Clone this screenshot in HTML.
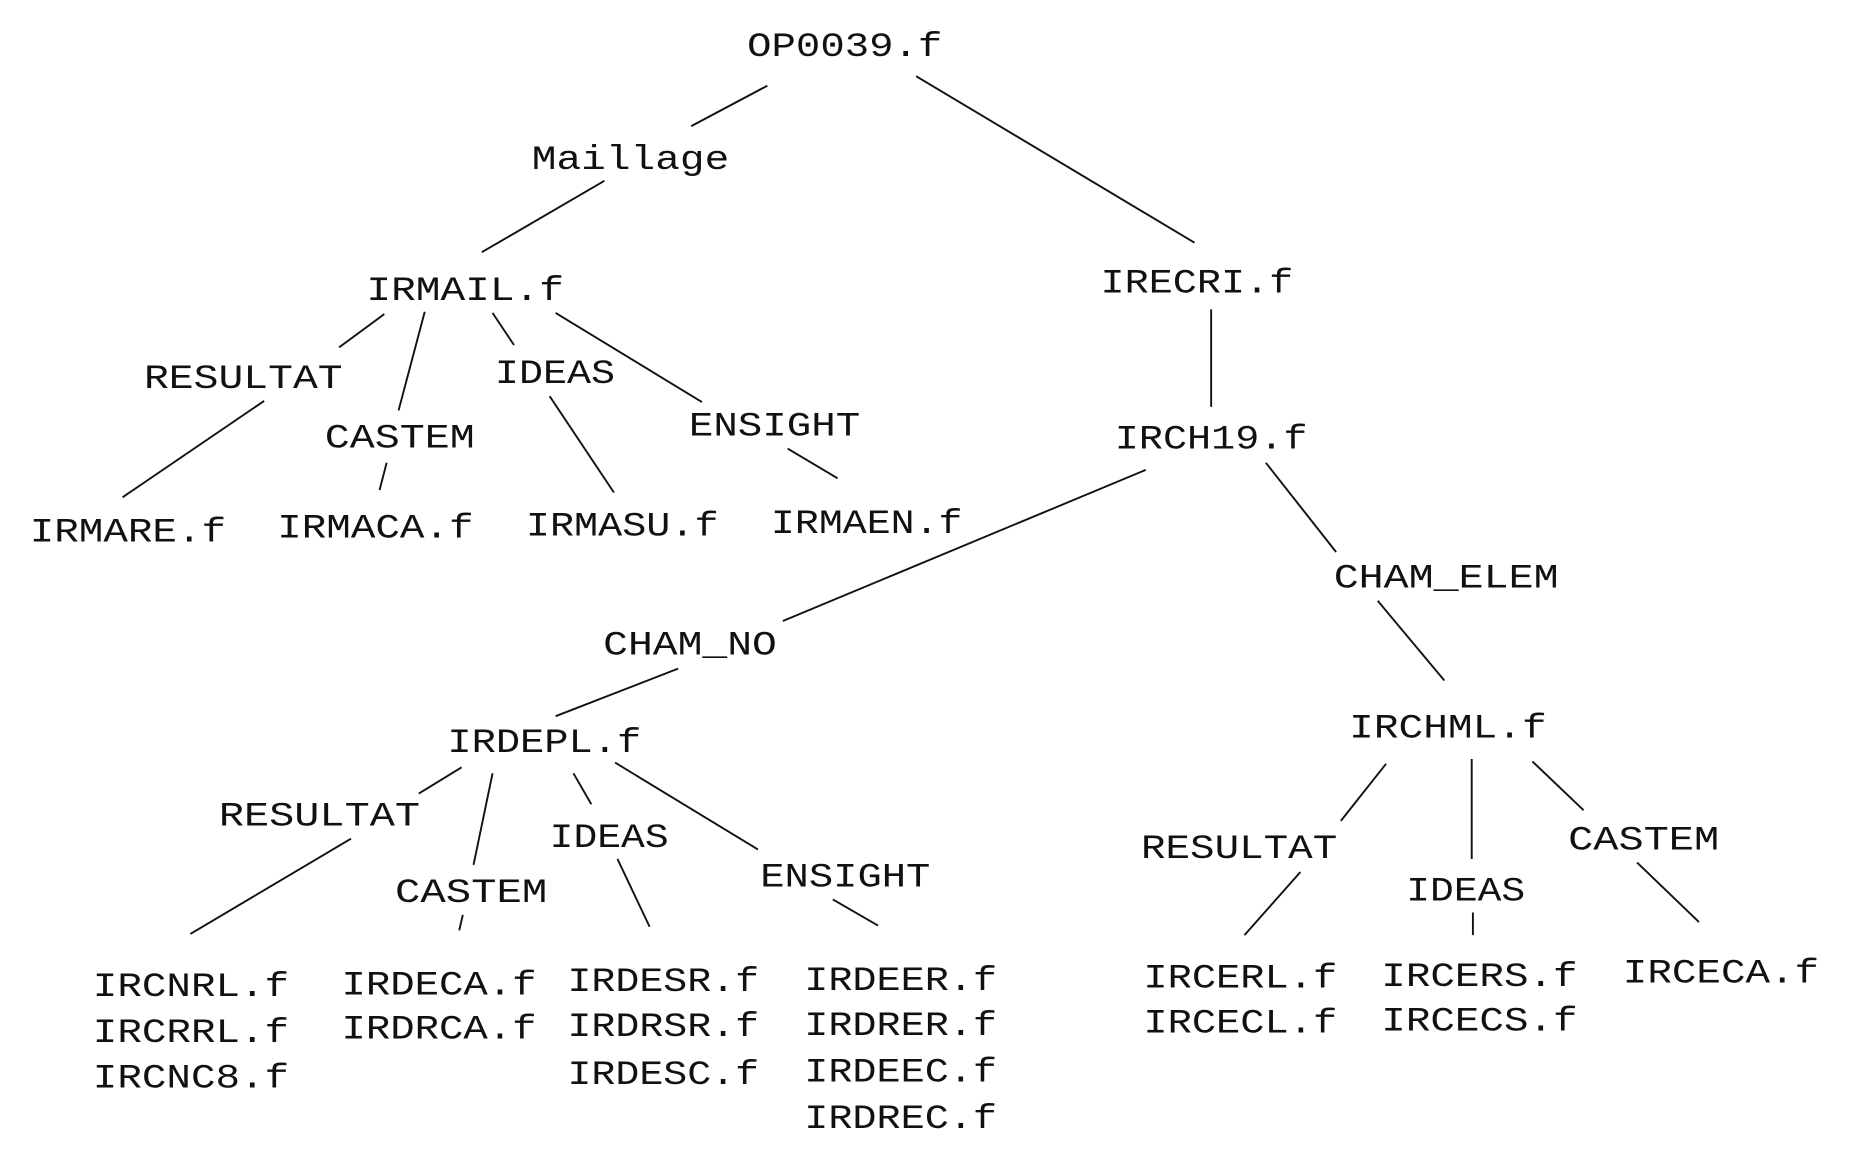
<!DOCTYPE html>
<html><head><meta charset="utf-8"><style>
html,body{margin:0;padding:0;background:#fff;}
svg{display:block;}
text{font-family:"Liberation Mono","Courier New",monospace;font-size:29px;fill:#111;}
line{stroke:#111;stroke-width:1.6;}
</style></head><body>
<svg width="1856" height="1154" viewBox="0 0 1560 970" preserveAspectRatio="none" xmlns="http://www.w3.org/2000/svg">
<g>
<line x1="645" y1="72" x2="581" y2="106"/>
<line x1="770" y1="64" x2="1004" y2="204"/>
<line x1="508" y1="152" x2="405" y2="212"/>
<line x1="323" y1="264" x2="285" y2="292"/>
<line x1="357" y1="262" x2="335" y2="345"/>
<line x1="414" y1="263" x2="432" y2="290"/>
<line x1="467" y1="263" x2="590" y2="338"/>
<line x1="222" y1="337" x2="103" y2="418"/>
<line x1="325" y1="389" x2="319" y2="412"/>
<line x1="462" y1="333" x2="516" y2="414"/>
<line x1="662" y1="377" x2="704" y2="402"/>
<line x1="1018" y1="260" x2="1018" y2="342"/>
<line x1="963" y1="395" x2="658" y2="522"/>
<line x1="1064" y1="389" x2="1123" y2="464"/>
<line x1="570" y1="562" x2="467" y2="602"/>
<line x1="1158" y1="505" x2="1214" y2="572"/>
<line x1="388" y1="645" x2="352" y2="667"/>
<line x1="414" y1="650" x2="398" y2="727"/>
<line x1="482" y1="650" x2="497" y2="676"/>
<line x1="517" y1="641" x2="637" y2="714"/>
<line x1="295" y1="705" x2="160" y2="785"/>
<line x1="389" y1="769" x2="386" y2="782"/>
<line x1="519" y1="722" x2="546" y2="779"/>
<line x1="700" y1="756" x2="738" y2="778"/>
<line x1="1165" y1="642" x2="1127" y2="690"/>
<line x1="1237" y1="638" x2="1237" y2="722"/>
<line x1="1288" y1="640" x2="1331" y2="681"/>
<line x1="1093" y1="733" x2="1046" y2="786"/>
<line x1="1238" y1="767" x2="1238" y2="786"/>
<line x1="1376" y1="725" x2="1428" y2="775"/>
</g>
<g>
<text x="628" y="47" textLength="164" lengthAdjust="spacingAndGlyphs">OP0039.f</text>
<text x="447" y="142" textLength="166" lengthAdjust="spacingAndGlyphs">Maillage</text>
<text x="308" y="252" textLength="166" lengthAdjust="spacingAndGlyphs">IRMAIL.f</text>
<text x="925" y="246" textLength="162" lengthAdjust="spacingAndGlyphs">IRECRI.f</text>
<text x="121" y="326" textLength="167" lengthAdjust="spacingAndGlyphs">RESULTAT</text>
<text x="416" y="322" textLength="101" lengthAdjust="spacingAndGlyphs">IDEAS</text>
<text x="273" y="376" textLength="126" lengthAdjust="spacingAndGlyphs">CASTEM</text>
<text x="579" y="366" textLength="144" lengthAdjust="spacingAndGlyphs">ENSIGHT</text>
<text x="937" y="377" textLength="162" lengthAdjust="spacingAndGlyphs">IRCH19.f</text>
<text x="25" y="455" textLength="165" lengthAdjust="spacingAndGlyphs">IRMARE.f</text>
<text x="233" y="452" textLength="165" lengthAdjust="spacingAndGlyphs">IRMACA.f</text>
<text x="442" y="450" textLength="162" lengthAdjust="spacingAndGlyphs">IRMASU.f</text>
<text x="648" y="448" textLength="161" lengthAdjust="spacingAndGlyphs">IRMAEN.f</text>
<text x="1121" y="494" textLength="189" lengthAdjust="spacingAndGlyphs">CHAM_ELEM</text>
<text x="507" y="550" textLength="146" lengthAdjust="spacingAndGlyphs">CHAM_NO</text>
<text x="376" y="632" textLength="163" lengthAdjust="spacingAndGlyphs">IRDEPL.f</text>
<text x="1134" y="620" textLength="166" lengthAdjust="spacingAndGlyphs">IRCHML.f</text>
<text x="184" y="694" textLength="169" lengthAdjust="spacingAndGlyphs">RESULTAT</text>
<text x="462" y="712" textLength="100" lengthAdjust="spacingAndGlyphs">IDEAS</text>
<text x="332" y="758" textLength="128" lengthAdjust="spacingAndGlyphs">CASTEM</text>
<text x="639" y="745" textLength="143" lengthAdjust="spacingAndGlyphs">ENSIGHT</text>
<text x="959" y="721" textLength="165" lengthAdjust="spacingAndGlyphs">RESULTAT</text>
<text x="1318" y="714" textLength="127" lengthAdjust="spacingAndGlyphs">CASTEM</text>
<text x="1182" y="757" textLength="100" lengthAdjust="spacingAndGlyphs">IDEAS</text>
<text x="78" y="837" textLength="165" lengthAdjust="spacingAndGlyphs">IRCNRL.f</text>
<text x="78" y="876" textLength="165" lengthAdjust="spacingAndGlyphs">IRCRRL.f</text>
<text x="78" y="914" textLength="165" lengthAdjust="spacingAndGlyphs">IRCNC8.f</text>
<text x="287" y="836" textLength="164" lengthAdjust="spacingAndGlyphs">IRDECA.f</text>
<text x="287" y="873" textLength="164" lengthAdjust="spacingAndGlyphs">IRDRCA.f</text>
<text x="477" y="833" textLength="161" lengthAdjust="spacingAndGlyphs">IRDESR.f</text>
<text x="477" y="871" textLength="161" lengthAdjust="spacingAndGlyphs">IRDRSR.f</text>
<text x="477" y="911" textLength="161" lengthAdjust="spacingAndGlyphs">IRDESC.f</text>
<text x="676" y="832" textLength="162" lengthAdjust="spacingAndGlyphs">IRDEER.f</text>
<text x="676" y="870" textLength="162" lengthAdjust="spacingAndGlyphs">IRDRER.f</text>
<text x="676" y="909" textLength="162" lengthAdjust="spacingAndGlyphs">IRDEEC.f</text>
<text x="676" y="948" textLength="162" lengthAdjust="spacingAndGlyphs">IRDREC.f</text>
<text x="961" y="830" textLength="163" lengthAdjust="spacingAndGlyphs">IRCERL.f</text>
<text x="961" y="868" textLength="163" lengthAdjust="spacingAndGlyphs">IRCECL.f</text>
<text x="1161" y="829" textLength="165" lengthAdjust="spacingAndGlyphs">IRCERS.f</text>
<text x="1161" y="866" textLength="165" lengthAdjust="spacingAndGlyphs">IRCECS.f</text>
<text x="1364" y="826" textLength="165" lengthAdjust="spacingAndGlyphs">IRCECA.f</text>
</g>
</svg>
</body></html>
